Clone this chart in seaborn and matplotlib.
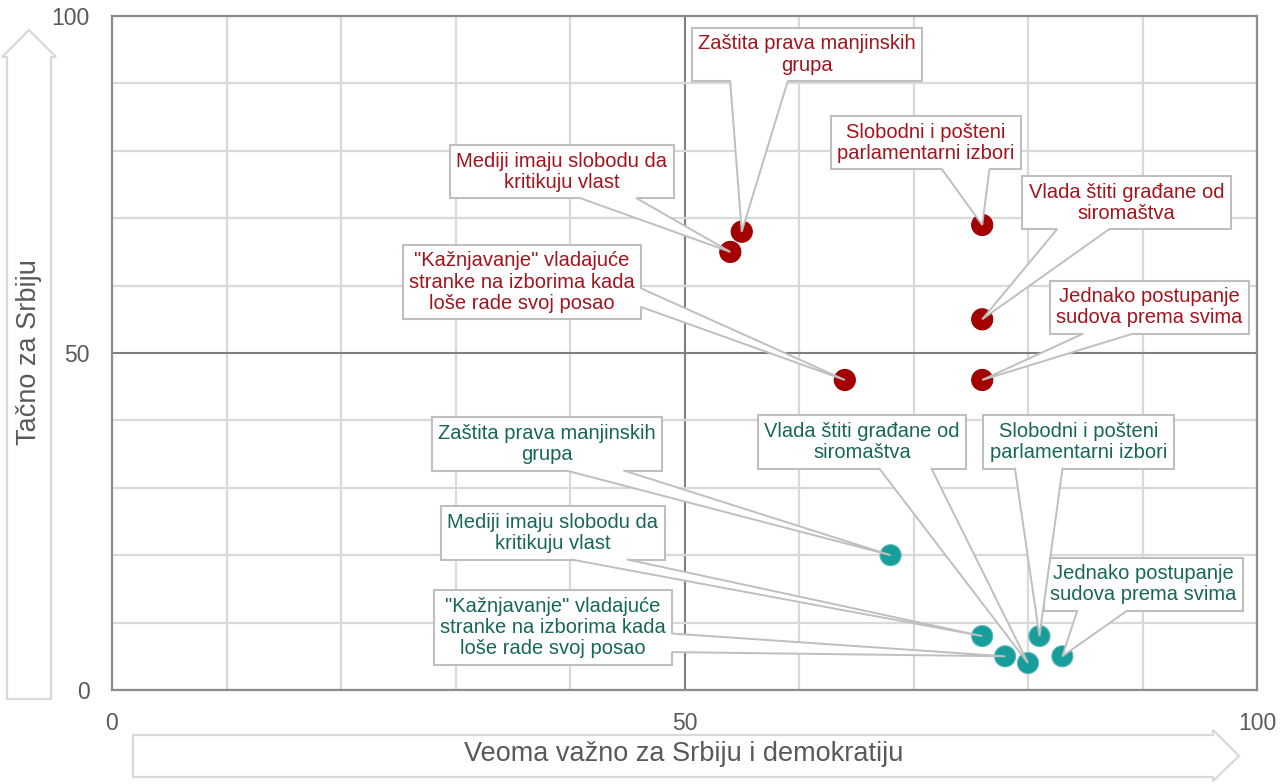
import matplotlib
matplotlib.use("Agg")
import matplotlib.pyplot as plt
from matplotlib.patches import Polygon
from matplotlib.lines import Line2D
from matplotlib.transforms import IdentityTransform
import seaborn as sns
import pandas as pd

# ---------------- data ----------------
labels = [
    "Zaštita prava manjinskih\ngrupa",
    "Mediji imaju slobodu da\nkritikuju vlast",
    "\"Kažnjavanje\" vladajuće\nstranke na izborima kada\nloše rade svoj posao",
    "Slobodni i pošteni\nparlamentarni izbori",
    "Vlada štiti građane od\nsiromaštva",
    "Jednako postupanje\nsudova prema svima",
]
red_x = [55, 54, 64, 76, 76, 76]
red_y = [68, 65, 46, 69, 55, 46]
teal_x = [68, 76, 78, 81, 80, 83]
teal_y = [20, 8, 5, 8, 4, 5]

x_ticks = [0, 50, 100]
y_ticks = [0, 50, 100]
x_label = "Veoma važno za Srbiju i demokratiju"
y_label = "Tačno za Srbiju"

# label box placement (layout, data coords)
red_lab_pos = [(60.7, 94.3), (39.3, 76.9), (35.8, 60.5), (71.1, 81.2), (88.6, 72.3), (90.6, 56.8)]
teal_lab_pos = [(38.0, 36.5), (38.5, 23.3), (38.5, 9.3), (84.4, 36.8), (65.5, 36.8), (90.1, 15.7)]

RED_DOT = "#A50000"
TEAL_DOT = "#179E9B"
RED_TXT = "#A3141C"
TEAL_TXT = "#17665A"
CALLOUT_EDGE = "#BFBFBF"

df = pd.DataFrame({
    "x": red_x + teal_x,
    "y": red_y + teal_y,
    "serija": ["a"] * len(red_x) + ["b"] * len(teal_x),
})

# ---------------- style ----------------
sns.set_theme(style="white")
plt.rcParams["font.family"] = ["Liberation Sans", "DejaVu Sans"]

W, H = 1287, 784
fig = plt.figure(figsize=(W / 100, H / 100), dpi=100)
ax = fig.add_axes([112 / W, 1 - 690 / H, (1257 - 112) / W, (690 - 16) / H])

sns.scatterplot(data=df, x="x", y="y", hue="serija",
                palette={"a": RED_DOT, "b": TEAL_DOT},
                s=230, linewidth=0.8, edgecolor="none", legend=False, ax=ax, zorder=2)
for c in ax.collections:
    c.set_edgecolor(["#9A0000"] * len(red_x) + ["#5DB7BE"] * len(teal_x))

ax.set_xlim(0, 100)
ax.set_ylim(0, 100)
ax.set_xticks(x_ticks)
ax.set_yticks(y_ticks)
ax.set_xticks(range(0, 101, 10), minor=True)
ax.set_yticks(range(0, 101, 10), minor=True)
ax.set_axisbelow(True)
ax.grid(which="minor", color="#D9D9D9", lw=1.6, zorder=0)
ax.grid(which="major", color="#7F7F7F", lw=1.5, zorder=0.5)
ax.tick_params(which="both", length=0, labelsize=16.5, labelcolor="#595959")
ax.tick_params(axis="x", pad=16)
ax.tick_params(axis="y", pad=16)
ax.set_xlabel("")
ax.set_ylabel("")
for sp in ax.spines.values():
    sp.set_color("#8C8C8C")
    sp.set_linewidth(1.6)

# ---------------- callout boxes ----------------
boxes = []
def add_boxes(xs, ys, positions, color):
    for lab, px, py, (tx, ty) in zip(labels, xs, ys, positions):
        t = ax.text(tx, ty, lab, ha="center", va="center", fontsize=14.5, color=color,
                    linespacing=1.15, zorder=3,
                    bbox=dict(boxstyle="square,pad=0.32", fc="white", ec=CALLOUT_EDGE, lw=1.5))
        boxes.append((t, px, py))

add_boxes(red_x, red_y, red_lab_pos, RED_TXT)
add_boxes(teal_x, teal_y, teal_lab_pos, TEAL_TXT)

# wedge pointers (Excel-style wedgeRectCallout), computed from the rendered boxes
fig.canvas.draw()
renderer = fig.canvas.get_renderer()
ident = IdentityTransform()
for t, px, py in boxes:
    bb = t.get_bbox_patch().get_window_extent(renderer)
    tipx, tipy = ax.transData.transform((px, py))
    w, h = bb.width, bb.height
    cx, cy = bb.x0 + w / 2, bb.y0 + h / 2
    dx, dy = tipx - cx, tipy - cy
    inset = 2.0
    if abs(dy) - abs(dx) * h / w > 0:
        f1, f2 = (7 / 12, 10 / 12) if dx > 0 else (2 / 12, 5 / 12)
        ey = bb.y0 if dy < 0 else bb.y1
        s = 1 if dy < 0 else -1
        b1 = (bb.x0 + w * f1, ey)
        b2 = (bb.x0 + w * f2, ey)
        b1i = (b1[0], ey + s * inset)
        b2i = (b2[0], ey + s * inset)
    else:
        f1, f2 = (7 / 12, 10 / 12) if dy < 0 else (2 / 12, 5 / 12)
        ex = bb.x0 if dx < 0 else bb.x1
        s = 1 if dx < 0 else -1
        b1 = (ex, bb.y1 - h * f1)
        b2 = (ex, bb.y1 - h * f2)
        b1i = (ex + s * inset, b1[1])
        b2i = (ex + s * inset, b2[1])
    poly = Polygon([b1i, b2i, b2, (tipx, tipy), b1], closed=True, fc="white", ec="none",
                   transform=ident, zorder=3.5, clip_on=False)
    ax.add_patch(poly)
    ln = Line2D([b1[0], tipx, b2[0]], [b1[1], tipy, b2[1]], color=CALLOUT_EDGE, lw=1.4,
                transform=ident, zorder=3.6, clip_on=False, solid_joinstyle="miter")
    ax.add_line(ln)

# ---------------- axis arrows ----------------
def fig_poly(pts):
    return Polygon([(x / W, 1 - y / H) for x, y in pts], closed=True,
                   transform=fig.transFigure, fc="white", ec="#D9D9D9", lw=1.6)

left_arrow = [(29, 30), (56, 57), (51, 57), (51, 699), (7, 699), (7, 57), (2, 57)]
bottom_arrow = [(1239, 756), (1213, 781), (1213, 777), (133, 777), (133, 735), (1213, 735), (1213, 730)]
fig.patches.append(fig_poly(left_arrow))
fig.patches.append(fig_poly(bottom_arrow))

fig.text(29 / W, 1 - 352 / H, y_label, rotation=90, ha="center", va="center",
         fontsize=19.5, color="#595959")
fig.text(684 / W, 1 - 754 / H, x_label, ha="center", va="center",
         fontsize=19.5, color="#595959")

fig.savefig("out.png", dpi=100)
